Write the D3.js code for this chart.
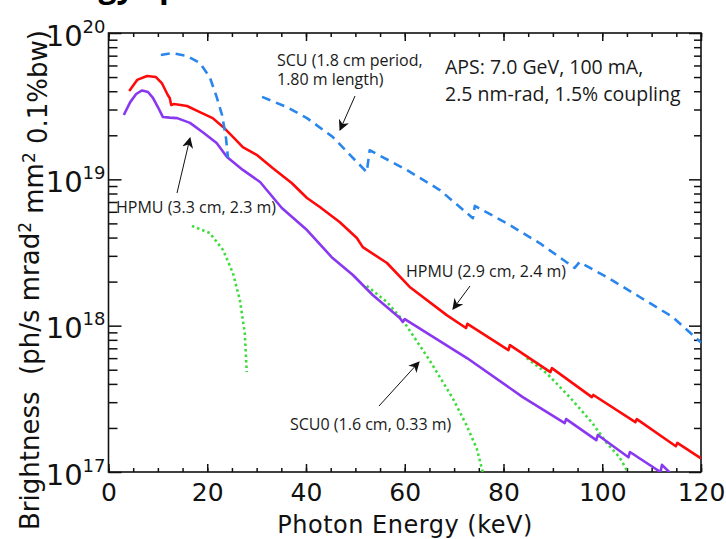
<!DOCTYPE html>
<html>
<head>
<meta charset="utf-8">
<script src="https://cdn.jsdelivr.net/npm/d3@7"></script>
<style>
  body { margin: 0; background: #fff; }
  svg { display: block; }
</style>
</head>
<body>
<script>
const width = 726;
const height = 539;

// HPMU (2.9 cm, 2.4 m) - red
const hpmu29E = [4.2, 5.8, 7.8, 9.6, 10.8, 12.0, 12.4, 12.7, 13.3, 15.9, 18.5, 21.1, 23.2, 25.2, 27.2, 30.0, 33.3, 37.1, 40.2, 42.8, 46.8, 50.3, 51.5, 56.4, 61.0, 68.5, 72.4, 72.7, 81.0, 81.3, 89.5, 89.8, 97.9, 98.2, 106.7, 107.0, 114.9, 115.2, 120];
const hpmu29B = [4.02e19, 4.78e19, 5.08e19, 5.00e19, 4.55e19, 3.77e19, 3.60e19, 3.22e19, 3.27e19, 3.17e19, 2.88e19, 2.62e19, 2.28e19, 1.95e19, 1.66e19, 1.47e19, 1.19e19, 9.44e18, 7.45e18, 6.47e18, 5.11e18, 3.97e18, 3.44e18, 2.68e18, 1.84e18, 1.18e18, 9.64e17, 1.03e18, 6.81e17, 7.36e17, 4.82e17, 5.13e17, 3.25e17, 3.36e17, 2.19e17, 2.30e17, 1.50e17, 1.58e17, 1.24e17];

// HPMU (3.3 cm, 2.3 m) - purple
const hpmu33E = [3.1, 4.4, 5.6, 6.8, 8.0, 9.0, 10.0, 11.0, 12.4, 13.9, 16.5, 19.1, 21.9, 24.0, 27.2, 30.7, 35.1, 40.2, 45.2, 49.5, 53.5, 59.0, 59.6, 60.0, 72.6, 83.9, 92.4, 92.7, 98.8, 99.1, 105.3, 105.6, 111.8, 112.1, 114.5];
const hpmu33B = [2.75e19, 3.37e19, 3.83e19, 4.05e19, 3.95e19, 3.60e19, 3.12e19, 2.67e19, 2.64e19, 2.62e19, 2.43e19, 2.10e19, 1.77e19, 1.42e19, 1.16e19, 9.59e18, 6.37e18, 4.50e18, 2.94e18, 2.22e18, 1.62e18, 1.13e18, 1.06e18, 1.11e18, 6.01e17, 3.25e17, 2.16e17, 2.30e17, 1.65e17, 1.79e17, 1.26e17, 1.37e17, 1.00e17, 1.12e17, 9.3e16];

// SCU (1.8 cm period, 1.80 m length) - blue dashed, two pieces
const scuLowE = [10.6, 12.9, 15.9, 18.5, 20.5, 21.9, 23.0, 23.8, 24.2];
const scuLowB = [7.08e19, 7.29e19, 6.97e19, 6.24e19, 5.00e19, 3.66e19, 2.75e19, 1.91e19, 1.40e19];
const scuHighE = [31.1, 36.1, 40.2, 45.4, 48.9, 52.3, 52.9, 55.5, 60.4, 67.1, 73.8, 74.2, 80.6, 87.3, 94.4, 95.4, 100.9, 107.6, 114.2, 120];
const scuHighB = [3.66e19, 3.12e19, 2.62e19, 1.95e19, 1.47e19, 1.12e19, 1.58e19, 1.42e19, 1.16e19, 8.45e18, 5.43e18, 6.58e18, 5.02e18, 3.67e18, 2.48e18, 2.72e18, 2.15e18, 1.57e18, 1.15e18, 7.67e17];

// SCU0 (1.6 cm, 0.33 m) - green dotted, three harmonics
const scu0AE = [16.9, 20.5, 23.2, 25.2, 26.6, 27.6, 28.0];
const scu0AB = [4.80e18, 4.30e18, 3.29e18, 2.29e18, 1.50e18, 8.89e17, 4.82e17];
const scu0BE = [52.3, 56.4, 59.6, 65.0, 69.7, 72.5, 74.6, 75.8, 76.5];
const scu0BB = [1.87e18, 1.45e18, 1.09e18, 5.82e17, 3.20e17, 2.09e17, 1.44e17, 1.0e17, 7.9e16];
const scu0CE = [84.7, 88.7, 93.4, 98.0, 100.9, 103.5, 105.1, 105.6];
const scu0CB = [6.01e17, 4.74e17, 3.25e17, 2.16e17, 1.58e17, 1.26e17, 1.01e17, 8.9e16];

const xMajor = [0, 20, 40, 60, 80, 100, 120];
const xMinor = d3.range(0, 121, 5);
const yMajor = [1e17, 1e18, 1e19, 1e20];
const yMinor = [17, 18, 19].flatMap(p => d3.range(2, 10).map(m => m * Math.pow(10, p)));

const plotLeft = 108.5, plotRight = 701, plotTop = 33, plotBottom = 472;

const svg = d3.select("body").append("svg")
    .attr("width", width)
    .attr("height", height);

const x = d3.scaleLinear().domain([0, 120]).range([plotLeft, plotRight]);
const y = d3.scaleLog().domain([1e17, 1e20]).range([plotBottom, plotTop]);

const defs = svg.append("defs");
defs.append("clipPath").attr("id", "plot")
    .append("rect")
    .attr("x", plotLeft).attr("y", plotTop)
    .attr("width", plotRight - plotLeft).attr("height", plotBottom - plotTop);

const marker = defs.append("marker")
    .attr("id", "arrow")
    .attr("viewBox", "0 0 10 10")
    .attr("refX", 9).attr("refY", 5)
    .attr("markerWidth", 11).attr("markerHeight", 11)
    .attr("markerUnits", "userSpaceOnUse")
    .attr("orient", "auto");
marker.append("path").attr("d", "M0,0 L10,5 L0,10 L3,5 Z").attr("fill", "#111");

// cut-off title line at the very top
svg.append("text")
    .attr("x", 26).attr("y", -3)
    .style("font-family", "Open Sans")
    .style("font-weight", "bold")
    .style("font-size", "32px")
    .text("Energy spectrum");

const axisFont = "DejaVu Sans";

function noDomain(g) { g.select(".domain").remove(); }

// bottom / top ticks
svg.append("g").attr("transform", `translate(0,${plotBottom})`)
    .call(d3.axisBottom(x).tickValues(xMinor).tickSizeInner(-4).tickSizeOuter(0).tickFormat(""))
    .call(noDomain);
svg.append("g").attr("transform", `translate(0,${plotBottom})`)
    .call(d3.axisBottom(x).tickValues(xMajor).tickSizeInner(-8).tickSizeOuter(0).tickPadding(11).tickFormat(d3.format("d")))
    .call(noDomain)
    .selectAll("text")
    .style("font-family", axisFont).style("font-size", "25px").attr("fill", "#111");
svg.append("g").attr("transform", `translate(0,${plotTop})`)
    .call(d3.axisTop(x).tickValues(xMinor).tickSizeInner(-4).tickSizeOuter(0).tickFormat(""))
    .call(noDomain);
svg.append("g").attr("transform", `translate(0,${plotTop})`)
    .call(d3.axisTop(x).tickValues(xMajor).tickSizeInner(-8).tickSizeOuter(0).tickFormat(""))
    .call(noDomain);

// left / right ticks
svg.append("g").attr("transform", `translate(${plotLeft},0)`)
    .call(d3.axisLeft(y).tickValues(yMinor).tickSizeInner(-9).tickSizeOuter(0).tickFormat(""))
    .call(noDomain);
const yLeft = svg.append("g").attr("transform", `translate(${plotLeft},0)`)
    .call(d3.axisLeft(y).tickValues(yMajor).tickSizeInner(-13).tickSizeOuter(0).tickFormat(""))
    .call(noDomain);
svg.append("g").attr("transform", `translate(${plotRight},0)`)
    .call(d3.axisRight(y).tickValues(yMinor).tickSizeInner(-7).tickSizeOuter(0).tickFormat(""))
    .call(noDomain);
svg.append("g").attr("transform", `translate(${plotRight},0)`)
    .call(d3.axisRight(y).tickValues(yMajor).tickSizeInner(-12).tickSizeOuter(0).tickFormat(""))
    .call(noDomain);

svg.selectAll(".tick line").attr("stroke", "#111").attr("stroke-width", 1.5);

// y tick labels: 10^n
yLeft.selectAll(".tick text").remove();
yLeft.selectAll(".tick").each(function(d) {
    const t = d3.select(this).append("text")
        .attr("x", -3).attr("y", 0)
        .attr("text-anchor", "end")
        .attr("fill", "#111")
        .style("font-family", axisFont);
    t.append("tspan").attr("dy", "0.42em").style("font-size", "29px").text("10");
    t.append("tspan").attr("dy", "-0.72em").style("font-size", "18px").text(Math.round(Math.log10(d)));
});

svg.append("rect")
    .attr("x", plotLeft).attr("y", plotTop)
    .attr("width", plotRight - plotLeft).attr("height", plotBottom - plotTop)
    .attr("fill", "none").attr("stroke", "#111").attr("stroke-width", 1.6);

// axis titles
svg.append("text")
    .attr("x", (plotLeft + plotRight) / 2).attr("y", 533)
    .attr("text-anchor", "middle")
    .attr("textLength", 255).attr("lengthAdjust", "spacing")
    .style("font-family", axisFont).style("font-size", "24px")
    .attr("fill", "#111")
    .text("Photon Energy (keV)");

const yt = svg.append("text")
    .attr("transform", "translate(39,280) rotate(-90)")
    .attr("text-anchor", "middle")
    .style("white-space", "pre")
    .style("font-family", axisFont).style("font-size", "26px")
    .attr("fill", "#111");
yt.append("tspan").text("Brightness  (ph/s mrad");
yt.append("tspan").attr("dy", "-0.45em").style("font-size", "17px").text("2");
yt.append("tspan").attr("dy", "0.45em").text(" mm");
yt.append("tspan").attr("dy", "-0.45em").style("font-size", "17px").text("2");
yt.append("tspan").attr("dy", "0.45em").text(" 0.1%bw)");

// curves
const line = d3.line()
    .x(d => x(d[0]))
    .y(d => y(d[1]));

const plot = svg.append("g").attr("clip-path", "url(#plot)");

const series = [
    {e: scu0AE, b: scu0AB, color: "#3ddc3d", dash: "2.5,3"},
    {e: scu0BE, b: scu0BB, color: "#3ddc3d", dash: "2.5,3"},
    {e: scu0CE, b: scu0CB, color: "#3ddc3d", dash: "2.5,3"},
    {e: hpmu33E, b: hpmu33B, color: "#8a38f0", dash: null},
    {e: hpmu29E, b: hpmu29B, color: "#ff0a0a", dash: null},
    {e: scuLowE, b: scuLowB, color: "#2a86ec", dash: "9,6"},
    {e: scuHighE, b: scuHighB, color: "#2a86ec", dash: "9,6"}
];

plot.selectAll("path.curve")
    .data(series)
    .enter()
    .append("path")
    .attr("class", "curve")
    .attr("d", s => line(d3.zip(s.e, s.b)))
    .attr("fill", "none")
    .attr("stroke", s => s.color)
    .attr("stroke-width", 2.6)
    .attr("stroke-linejoin", "round")
    .attr("stroke-dasharray", s => s.dash);

// annotations
const noteFont = "Open Sans";
const notes = [
    {x: 277, y: 66, size: 16, text: "SCU (1.8 cm period,"},
    {x: 277, y: 85, size: 16, text: "1.80 m length)"},
    {x: 445, y: 74, size: 19.5, text: "APS: 7.0 GeV, 100 mA,"},
    {x: 445, y: 101, size: 19.5, text: "2.5 nm-rad, 1.5% coupling"},
    {x: 406, y: 277, size: 16, text: "HPMU (2.9 cm, 2.4 m)"},
    {x: 116, y: 213, size: 16, text: "HPMU (3.3 cm, 2.3 m)"},
    {x: 290, y: 430, size: 16, text: "SCU0 (1.6 cm, 0.33 m)"}
];
svg.selectAll("text.note")
    .data(notes)
    .enter()
    .append("text")
    .attr("class", "note")
    .attr("x", d => d.x).attr("y", d => d.y)
    .style("font-family", noteFont)
    .style("font-size", d => d.size + "px")
    .attr("fill", "#1a1a1a")
    .text(d => d.text);

const arrows = [
    [355, 96, 340, 130],
    [470, 286, 453, 309],
    [177, 193, 190, 138],
    [379, 406, 419, 362]
];
svg.selectAll("line.arrow")
    .data(arrows)
    .enter()
    .append("line")
    .attr("class", "arrow")
    .attr("x1", d => d[0]).attr("y1", d => d[1])
    .attr("x2", d => d[2]).attr("y2", d => d[3])
    .attr("stroke", "#111").attr("stroke-width", 1)
    .attr("marker-end", "url(#arrow)");
</script>
</body>
</html>
